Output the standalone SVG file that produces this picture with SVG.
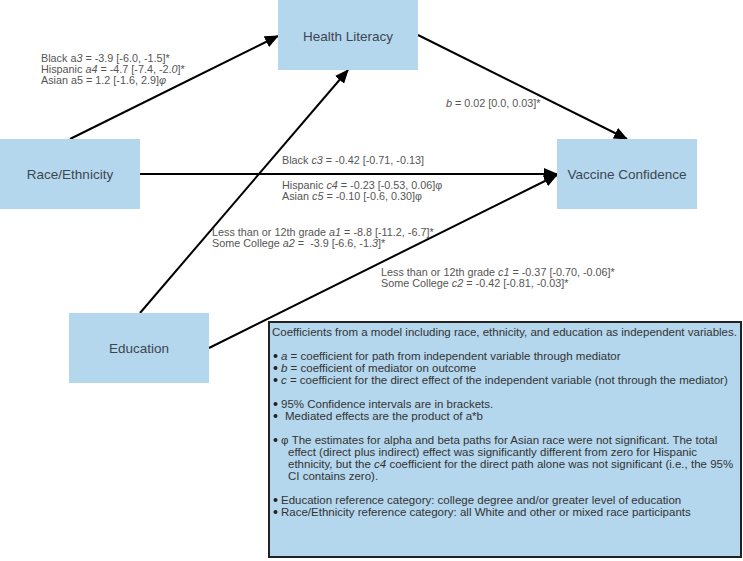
<svg xmlns="http://www.w3.org/2000/svg" width="743" height="561" viewBox="0 0 743 561">
<defs>
<style>
.node rect{fill:#b4d7ee;}
.node text{font-family:"Liberation Sans",Arial,sans-serif;font-size:13.5px;fill:#3d4650;text-anchor:middle;}
.lbl{font-family:"Liberation Sans",Arial,sans-serif;font-size:10.8px;fill:#555;}
.leg{font-family:"Liberation Sans",Arial,sans-serif;font-size:11.5px;fill:#333;}
.edge{stroke:#000;stroke-width:2;fill:none;marker-end:url(#ah);}
.it{font-style:italic;}
</style>
<marker id="ah" markerUnits="userSpaceOnUse" markerWidth="14" markerHeight="12" refX="13" refY="6" orient="auto">
<path d="M0,0 L14,6 L0,12 Z" fill="#000"/>
</marker>
</defs>
<rect width="743" height="561" fill="#fff"/>
<g id="connectors">
<line class="edge" x1="70" y1="139" x2="278" y2="36"/>
<line class="edge" x1="140" y1="174" x2="557" y2="174"/>
<line class="edge" x1="140" y1="313" x2="348" y2="70"/>
<line class="edge" x1="209" y1="348" x2="557" y2="175"/>
<line class="edge" x1="418" y1="35" x2="627" y2="139"/>
</g>
<g id="n-health-literacy" class="node"><rect x="278" y="0" width="140" height="70"/><text x="348" y="41">Health Literacy</text></g>
<g id="n-race" class="node"><rect x="0" y="139" width="140" height="70"/><text x="70" y="179">Race/Ethnicity</text></g>
<g id="n-education" class="node"><rect x="69" y="313" width="140" height="70"/><text x="139" y="353">Education</text></g>
<g id="n-vaccine" class="node"><rect x="557" y="139" width="140" height="70"/><text x="627" y="179">Vaccine Confidence</text></g>
<g id="labels">
<text class="lbl" x="41" y="62">Black a<tspan class="it">3</tspan> = -3.9 [-6.0, -1.5]*</text>
<text class="lbl" x="41" y="73">Hispanic <tspan class="it">a4</tspan> = -4.7 [-7.4, -2.<tspan class="it">0</tspan>]*</text>
<text class="lbl" x="41" y="84">Asian a5 = 1.2 [-1.6, 2.9]<tspan class="it">φ</tspan></text>
<text class="lbl" x="446" y="107"><tspan class="it">b</tspan> = 0.02 [0.0, 0.03]*</text>
<text class="lbl" x="282" y="164">Black <tspan class="it">c3</tspan> = -0.42 [-0.71, -0.13]</text>
<text class="lbl" x="282" y="189">Hispanic <tspan class="it">c4</tspan> = -0.23 [-0.53, 0.06]φ</text>
<text class="lbl" x="282" y="200">Asian <tspan class="it">c5</tspan> = -0.10 [-0.6, 0.30]φ</text>
<text class="lbl" x="212" y="236">Less than or 12th grade <tspan class="it">a1</tspan> = -8.8 [-11.2, -6.7]*</text>
<text class="lbl" x="212" y="247" xml:space="preserve">Some College <tspan class="it">a2</tspan> =  -3.9 [-6.6, -1.<tspan class="it">3</tspan>]*</text>
<text class="lbl" x="381" y="276">Less than or 12th grade <tspan class="it">c1</tspan> = -0.37 [-0.70, -0.06]*</text>
<text class="lbl" x="381" y="287">Some College <tspan class="it">c2</tspan> = -0.42 [-0.81, -0.03]*</text>
</g>
<g id="legend">
<rect x="269" y="322" width="472" height="235" fill="#b4d7ee" stroke="#222" stroke-width="2"/>
<g fill="#222">
<circle cx="275.5" cy="356" r="2"/>
<circle cx="275.5" cy="368" r="2"/>
<circle cx="275.5" cy="380" r="2"/>
<circle cx="275.5" cy="404" r="2"/>
<circle cx="275.5" cy="416" r="2"/>
<circle cx="275.5" cy="440" r="2"/>
<circle cx="275.5" cy="500" r="2"/>
<circle cx="275.5" cy="512" r="2"/>
</g>
<text class="leg" x="272" y="336">Coefficients from a model including race, ethnicity, and education as independent variables.</text>
<text class="leg" x="281" y="360"><tspan class="it">a</tspan> = coefficient for path from independent variable through mediator</text>
<text class="leg" x="281" y="372"><tspan class="it">b</tspan> = coefficient of mediator on outcome</text>
<text class="leg" x="281" y="384"><tspan class="it">c</tspan> = coefficient for the direct effect of the independent variable (not through the mediator)</text>
<text class="leg" x="281" y="408">95% Confidence intervals are in brackets.</text>
<text class="leg" x="285" y="420">Mediated effects are the product of a*b</text>
<text class="leg" x="281" y="444">φ The estimates for alpha and beta paths for Asian race were not significant. The total</text>
<text class="leg" x="288" y="456">effect (direct plus indirect) effect was significantly different from zero for Hispanic</text>
<text class="leg" x="288" y="468">ethnicity, but the <tspan class="it">c4</tspan> coefficient for the direct path alone was not significant (i.e., the 95%</text>
<text class="leg" x="288" y="480">CI contains zero).</text>
<text class="leg" x="281" y="504">Education reference category: college degree and/or greater level of education</text>
<text class="leg" x="281" y="516">Race/Ethnicity reference category: all White and other or mixed race participants</text>
</g>
</svg>
